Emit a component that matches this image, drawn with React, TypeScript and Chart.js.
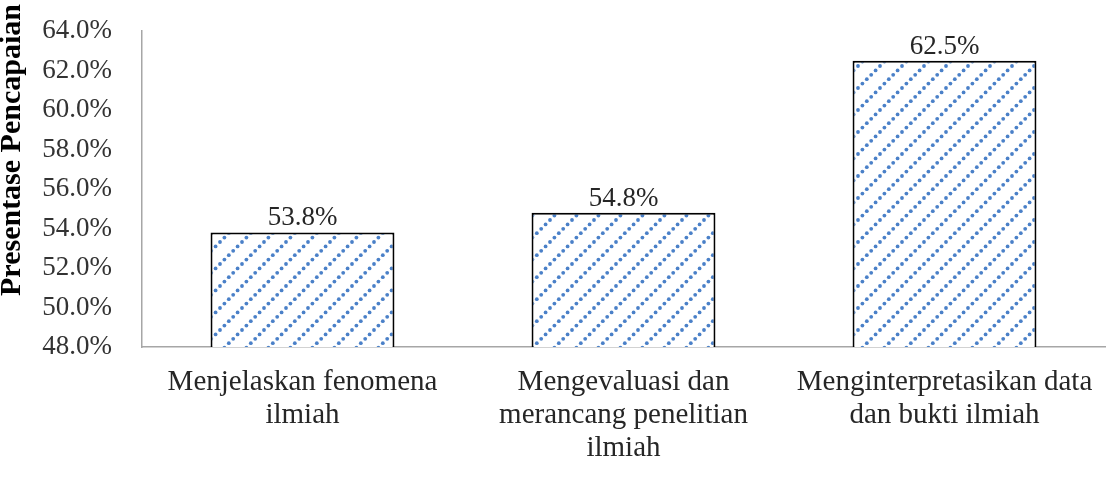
import React, { useEffect, useRef } from "react";
import { Chart, registerables } from "chart.js";

Chart.register(...registerables);

const categories: string[][] = [
  ["Menjelaskan fenomena", "ilmiah"],
  ["Mengevaluasi dan", "merancang penelitian", "ilmiah"],
  ["Menginterpretasikan data", "dan bukti ilmiah"],
];
const values: number[] = [53.8, 54.8, 62.5];
const yTitle = "Presentase Pencapaian";
const yMin = 48;
const yMax = 64;
const yStep = 2;

const SERIF = '"Liberation Serif", "Times New Roman", serif';

function makePattern(): CanvasPattern | string {
  const size = 22;
  const c = document.createElement("canvas");
  c.width = size;
  c.height = size;
  const g = c.getContext("2d");
  if (!g) return "#4a7ec7";
  g.fillStyle = "#ffffff";
  g.fillRect(0, 0, size, size);
  g.fillStyle = "#4a80c8";
  const n = 5;
  const dots: number[][] = [];
  for (let i = 0; i <= n; i++) {
    const t = (i * size) / n;
    dots.push([t, size - t]);
  }
  dots.push([0, 0], [size, size]);
  for (const [x, y] of dots) {
    g.beginPath();
    g.arc(x, y, 1.9, 0, Math.PI * 2);
    g.fill();
  }
  const p = g.createPattern(c, "repeat");
  return p || "#4a7ec7";
}

const labelPlugin = {
  id: "valueLabels",
  afterDatasetsDraw(chart: any) {
    const ctx = chart.ctx;
    const meta = chart.getDatasetMeta(0);
    ctx.save();
    ctx.font = `27px ${SERIF}`;
    ctx.fillStyle = "#262626";
    ctx.textAlign = "center";
    ctx.textBaseline = "alphabetic";
    meta.data.forEach((el: any, i: number) => {
      const v = chart.data.datasets[0].data[i] as number;
      ctx.fillText(v.toFixed(1) + "%", el.x, el.y - 7);
    });
    ctx.restore();
  },
};

const titlePlugin = {
  id: "yTitle",
  afterDraw(chart: any) {
    const ctx = chart.ctx;
    ctx.save();
    ctx.font = `bold 30px ${SERIF}`;
    ctx.fillStyle = "#000000";
    ctx.textAlign = "center";
    ctx.textBaseline = "middle";
    ctx.translate(12, 150);
    ctx.rotate(-Math.PI / 2);
    ctx.fillText(yTitle, 0, 0);
    ctx.restore();
  },
};

export default function App() {
  const ref = useRef<HTMLCanvasElement | null>(null);
  useEffect(() => {
    document.body.style.margin = "0";
    if (!ref.current) return;
    const pattern = makePattern();
    const chart = new Chart(ref.current, {
      type: "bar",
      data: {
        labels: categories,
        datasets: [
          {
            data: values,
            backgroundColor: pattern as any,
            borderColor: "#000000",
            borderWidth: 2,
            borderSkipped: false,
            categoryPercentage: 1,
            barPercentage: 0.573,
          },
        ],
      },
      options: {
        animation: false,
        responsive: false,
        maintainAspectRatio: false,
        layout: { padding: { top: 31, right: 3, left: 0, bottom: 0 } },
        plugins: {
          legend: { display: false },
          tooltip: { enabled: false },
        },
        scales: {
          x: {
            grid: { display: false, drawTicks: false },
            border: { display: true, color: "#a6a6a6", width: 1.5 },
            ticks: {
              color: "#262626",
              font: { family: SERIF, size: 29, lineHeight: 1.14 },
              padding: 19,
              maxRotation: 0,
              autoSkip: false,
            },
            afterFit: (s: any) => {
              s.height = 130;
              s.paddingLeft = 0;
              s.paddingRight = 0;
            },
          },
          y: {
            min: yMin,
            max: yMax,
            grid: { display: false, drawTicks: false },
            border: { display: true, color: "#a6a6a6", width: 1.5 },
            ticks: {
              stepSize: yStep,
              color: "#333333",
              font: { family: SERIF, size: 27 },
              padding: 30,
              callback: (v: any) => Number(v).toFixed(1) + "%",
            },
            afterFit: (s: any) => {
              s.width = 142;
              s.paddingTop = 0;
              s.paddingBottom = 0;
            },
          },
        },
      },
      plugins: [labelPlugin, titlePlugin],
    });
    return () => chart.destroy();
  }, []);
  return (
    <div style={{ width: 1108, height: 477 }}>
      <canvas ref={ref} width={1108} height={477} style={{ display: "block" }} />
    </div>
  );
}
